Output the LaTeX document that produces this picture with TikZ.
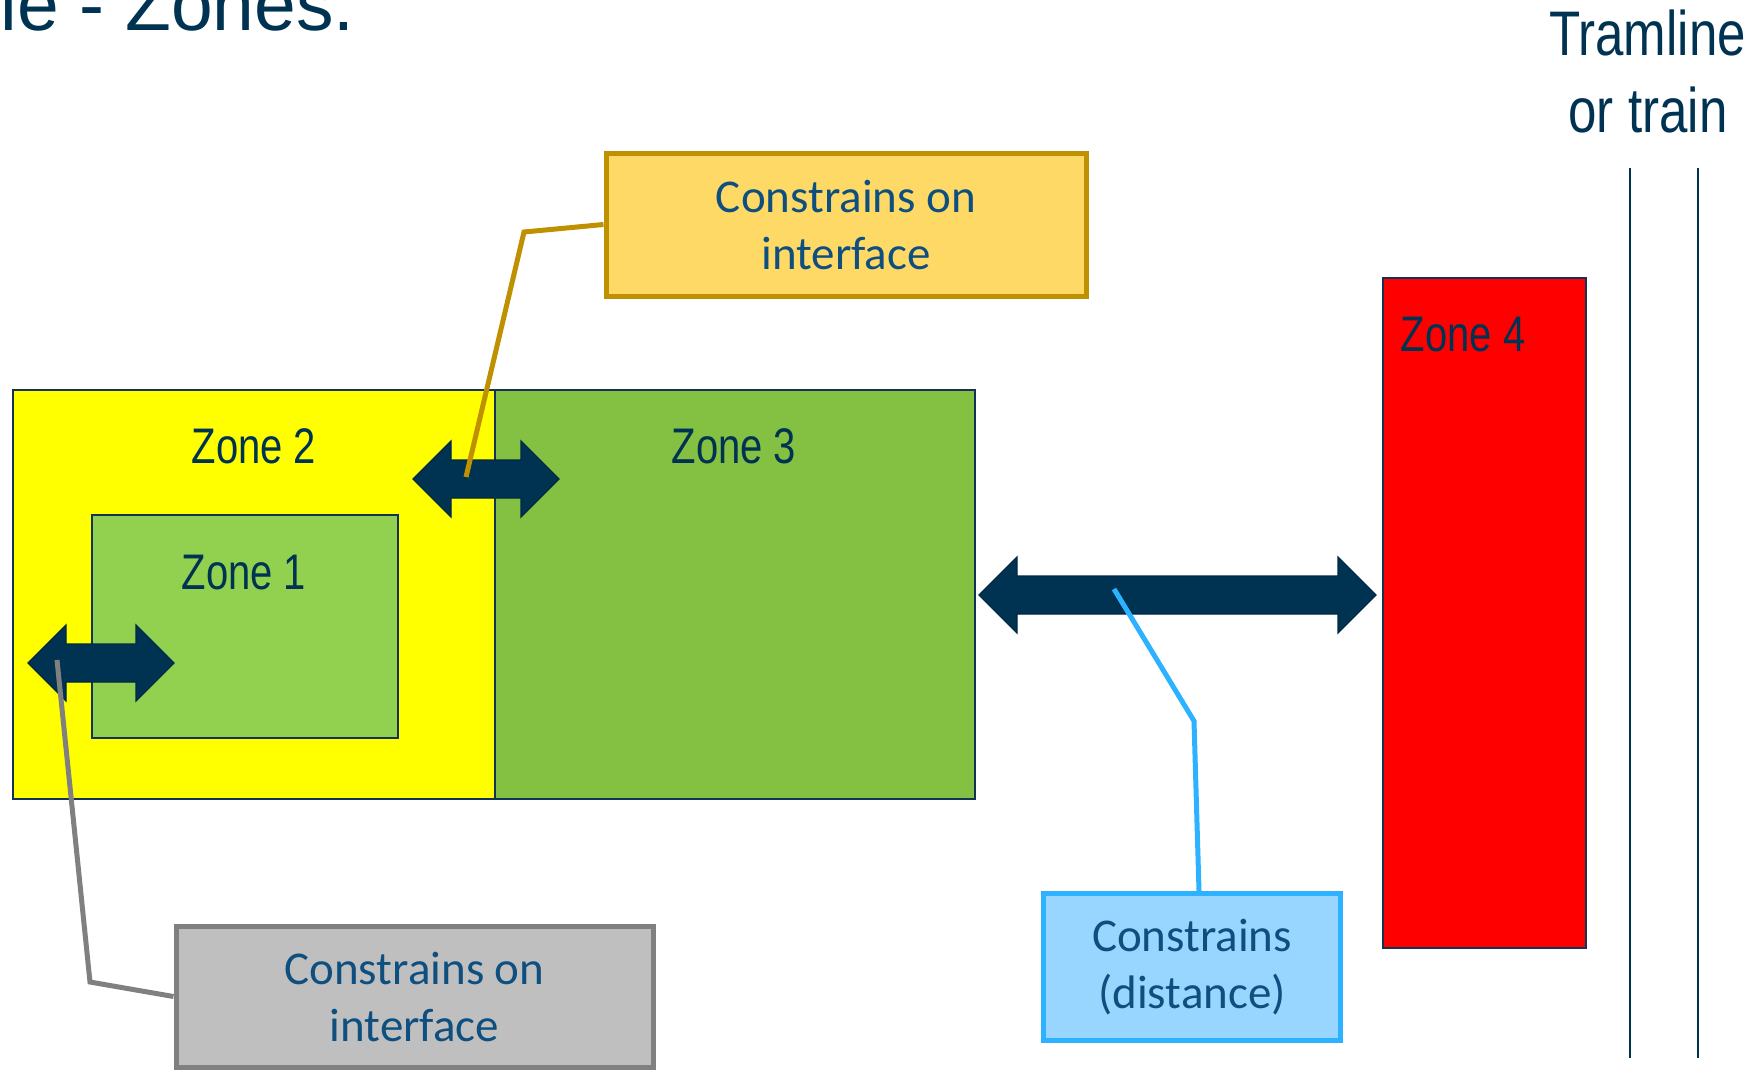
\documentclass[tikz,border=0pt]{standalone}
\usepackage{fontspec}
\setmainfont{Liberation Sans}
\newfontfamily\calloutfont{Carlito}

\definecolor{navy}{RGB}{0,51,82}
\definecolor{zoneedge}{RGB}{20,50,85}
\definecolor{zoneyellow}{RGB}{255,255,0}
\definecolor{zonegreen}{RGB}{132,192,65}
\definecolor{zonelight}{RGB}{146,208,80}
\definecolor{zonered}{RGB}{255,0,0}
\definecolor{goldedge}{RGB}{191,144,0}
\definecolor{goldfill}{RGB}{255,217,102}
\definecolor{grayedge}{RGB}{128,128,128}
\definecolor{grayfill}{RGB}{191,191,191}
\definecolor{blueedge}{RGB}{45,178,255}
\definecolor{bluefill}{RGB}{153,214,255}
\definecolor{callouttext}{RGB}{14,79,128}

\pgfdeclarelayer{base}
\pgfdeclarelayer{leaders}
\pgfsetlayers{base,leaders,main}

\tikzset{
  zone/.style={draw=zoneedge, line width=1pt},
  zonelabel/.style={text=navy, font=\fontsize{25}{30}\selectfont, inner sep=0pt, anchor=base},
  callout/.style={line width=2.5pt, text=callouttext,
    font=\calloutfont\fontsize{23.5}{28.5}\selectfont, align=center, inner sep=0pt},
  leader/.style={line width=2.5pt},
  bigarrow/.style={fill=navy, draw=navy!80!black, line width=0.6pt, line join=miter},
  trackline/.style={draw=navy, line width=1pt},
}

% double-headed block arrow: name, left tip x, right tip x, centre y
\newcommand\flatarrow[4]{%
  \draw[bigarrow] (#2,#4) -- (#2+38,#4-38) -- (#2+38,#4-19) -- (#3-38,#4-19)
    -- (#3-38,#4-38) -- (#3,#4) -- (#3-38,#4+38) -- (#3-38,#4+19)
    -- (#2+38,#4+19) -- (#2+38,#4+38) -- cycle;
  \coordinate (#1) at ({(#2+#3)/2},#4);}

\begin{document}
\begin{tikzpicture}[x=0.5pt,y=-0.5pt]
  \useasboundingbox (0,0) rectangle (1759,1071);
  \clip (0,0) rectangle (1759,1071);

  \begin{pgfonlayer}{base}
    % heading
    \node[anchor=base west, inner sep=0pt, text=navy, font=\fontsize{37.5}{45}\selectfont]
      (title) at (0,30) {le - Zones.};

    % zones
    \path[zone, fill=zoneyellow] (13,390) rectangle (495,799);
    \path[zone, fill=zonegreen] (495,390) rectangle (975,799);
    \path[zone, fill=zonelight] (92,515) rectangle (398,738);
    \path[zone, fill=zonered] (1383,278) rectangle (1586,948);

    \node[zonelabel] (z2) at (254,463) {\scalebox{0.8}[1]{Zone 2}};
    \node[zonelabel] (z3) at (734,463) {\scalebox{0.8}[1]{Zone 3}};
    \node[zonelabel] (z1) at (244,589) {\scalebox{0.8}[1]{Zone 1}};
    \node[zonelabel] (z4) at (1463,351) {\scalebox{0.8}[1]{Zone 4}};

    % track
    \draw[trackline] (1630,168) -- (1630,1058);
    \draw[trackline] (1698,168) -- (1698,1058);
    \node[anchor=base, inner sep=0pt, text=navy, font=\fontsize{31.5}{38}\selectfont]
      (tram1) at (1647.5,55) {\scalebox{0.81}[1]{Tramline}};
    \node[anchor=base, inner sep=0pt, text=navy, font=\fontsize{31.5}{38}\selectfont]
      (tram2) at (1648,132) {\scalebox{0.81}[1]{or train}};

    % interface / distance arrows
    \flatarrow{a1}{28}{174}{663}
    \flatarrow{a2}{413}{559}{479}
    \flatarrow{a3}{979}{1376}{595}
  \end{pgfonlayer}

  % callout boxes
  \node[callout, draw=goldedge, fill=goldfill, minimum width=240pt, minimum height=71.5pt]
    (gold) at (846,224.5) {Constrains on\\interface};
  \node[callout, draw=grayedge, fill=grayfill, minimum width=238.5pt, minimum height=70.5pt]
    (gray) at (414.5,996.5) {Constrains on\\interface};
  \node[callout, draw=blueedge, fill=bluefill, minimum width=148.5pt, minimum height=73.5pt]
    (blue) at (1192,967) {Constrains\\(distance)};

  % leader lines, tucked under the boxes
  \coordinate (gp) at (466,477);
  \coordinate (yp) at (57,660);
  \coordinate (bp) at (1114,589);
  \begin{pgfonlayer}{leaders}
    \draw[leader, draw=goldedge] (gold.west) -- (524,232) -- (gp);
    \draw[leader, draw=grayedge] (gray.west) -- (90,982) -- (yp);
    \draw[leader, draw=blueedge] ([xshift=3.5pt]blue.north) -- (1194,721) -- (bp);
  \end{pgfonlayer}
\end{tikzpicture}
\end{document}
